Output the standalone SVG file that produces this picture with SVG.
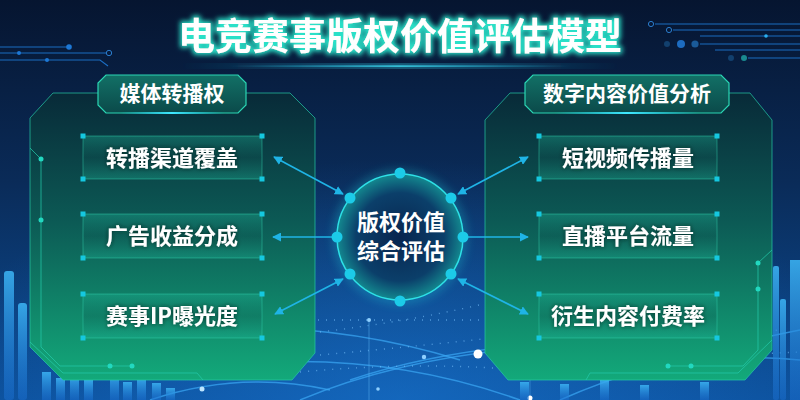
<svg xmlns="http://www.w3.org/2000/svg" width="800" height="400" viewBox="0 0 800 400">
<defs>
  <linearGradient id="bg" x1="0" y1="0" x2="0" y2="1">
    <stop offset="0" stop-color="#061530"/>
    <stop offset="0.45" stop-color="#0a2b58"/>
    <stop offset="1" stop-color="#0c4f9a"/>
  </linearGradient>
  <radialGradient id="bgGlow" cx="0.5" cy="1" r="0.6">
    <stop offset="0" stop-color="#1a7ad8" stop-opacity="0.55"/>
    <stop offset="1" stop-color="#1a7ad8" stop-opacity="0"/>
  </radialGradient>
  <linearGradient id="panel" x1="0" y1="0" x2="0" y2="1">
    <stop offset="0" stop-color="#082a38"/>
    <stop offset="0.45" stop-color="#0c5a55"/>
    <stop offset="1" stop-color="#13a97a"/>
  </linearGradient>
  <linearGradient id="box" x1="0" y1="0" x2="0" y2="1">
    <stop offset="0" stop-color="#1fb99a" stop-opacity="0.35"/>
    <stop offset="0.5" stop-color="#0e5a55" stop-opacity="0.25"/>
    <stop offset="1" stop-color="#1fb99a" stop-opacity="0.35"/>
  </linearGradient>
  <linearGradient id="tab" x1="0" y1="0" x2="0" y2="1">
    <stop offset="0" stop-color="#127066"/>
    <stop offset="1" stop-color="#0b4a4a"/>
  </linearGradient>
  <radialGradient id="hub" cx="0.5" cy="0.5" r="0.5">
    <stop offset="0" stop-color="#08254f"/>
    <stop offset="0.7" stop-color="#0b3f6a"/>
    <stop offset="1" stop-color="#13888f"/>
  </radialGradient>
  <linearGradient id="glowLine" x1="0" y1="0" x2="1" y2="0">
    <stop offset="0" stop-color="#20d8ff" stop-opacity="0"/>
    <stop offset="0.5" stop-color="#40e8ff" stop-opacity="1"/>
    <stop offset="1" stop-color="#20d8ff" stop-opacity="0"/>
  </linearGradient>
  <linearGradient id="bar" x1="0" y1="0" x2="0" y2="1">
    <stop offset="0" stop-color="#3ab0f0" stop-opacity="0.9"/>
    <stop offset="1" stop-color="#1a6ed0" stop-opacity="0.5"/>
  </linearGradient>
  <filter id="titleGlow" x="-10%" y="-40%" width="120%" height="180%">
    <feMorphology in="SourceAlpha" operator="dilate" radius="1.5" result="d"/>
    <feGaussianBlur in="d" stdDeviation="2.5" result="b"/>
    <feFlood flood-color="#2ae0c8"/>
    <feComposite in2="b" operator="in" result="g"/>
    <feMerge><feMergeNode in="g"/><feMergeNode in="SourceGraphic"/></feMerge>
  </filter>
  <filter id="txtShadow" x="-10%" y="-40%" width="120%" height="180%">
    <feGaussianBlur in="SourceAlpha" stdDeviation="2" result="b"/>
    <feFlood flood-color="#02201c" flood-opacity="0.8"/>
    <feComposite in2="b" operator="in" result="s"/>
    <feMerge><feMergeNode in="s"/><feMergeNode in="SourceGraphic"/></feMerge>
  </filter>
  <filter id="soft" x="-20%" y="-20%" width="140%" height="140%">
    <feGaussianBlur stdDeviation="4"/>
  </filter>
  <marker id="arr" viewBox="0 0 10 10" refX="9" refY="5" markerWidth="9" markerHeight="9" markerUnits="userSpaceOnUse" orient="auto-start-reverse">
    <path d="M0,0 L10,5 L0,10 Z" fill="#1fb4e6"/>
  </marker>
  <style>
    .title{font-family:"Noto Sans CJK SC","Noto Sans",sans-serif;font-weight:700;font-size:37px;fill:#ffffff;text-anchor:middle}
    .tabt{font-family:"Noto Sans CJK SC","Noto Sans",sans-serif;font-weight:700;font-size:21px;fill:#ffffff;text-anchor:middle}
    .boxt{font-family:"Noto Sans CJK SC","Noto Sans",sans-serif;font-weight:700;font-size:22px;fill:#ffffff;text-anchor:middle}
    .hubt{font-family:"Noto Sans CJK SC","Noto Sans",sans-serif;font-weight:700;font-size:22px;fill:#ffffff;text-anchor:middle}
    .panel{fill:url(#panel);stroke:#25c9a6;stroke-opacity:0.7;stroke-width:1}
    .tab{fill:url(#tab);stroke:#2ad6b4;stroke-width:1.2}
    .box{fill:url(#box);stroke:#34d2b0;stroke-opacity:0.45;stroke-width:1}
    .cn{fill:#15c8e0}
    .ckt{fill:none;stroke:#24c8a8;stroke-opacity:0.75;stroke-width:1}
    .cdot{fill:#22d8c0}
    .conn{stroke:#1fb4e6;stroke-width:1.6;fill:none}
    .hdot{fill:#1ccbe8}
    .deco{stroke:#1b6cc0;stroke-width:1.2;fill:none}
    .arc{fill:none;stroke:#3aa8f5;stroke-width:1.5;stroke-opacity:0.7}
    .dots{fill:none;stroke:#7cc4ff;stroke-width:1.4;stroke-dasharray:1 7;stroke-opacity:0.6}
    .bar{fill:url(#bar)}
  </style>
</defs>

<!-- background -->
<rect x="0" y="0" width="800" height="400" fill="url(#bg)"/>
<rect x="0" y="0" width="800" height="400" fill="url(#bgGlow)"/>

<!-- background arcs & dotted lines -->
<g id="bg-deco">
  <path class="arc" d="M200,330 Q330,320 460,360"/>
  <path class="arc" d="M300,400 Q420,350 580,345"/>
  <path class="arc" d="M230,365 Q380,350 520,400"/>
  <path class="arc" d="M350,380 Q470,340 640,340"/>
  <path class="arc" d="M560,400 Q650,360 800,330"/>
  <path class="arc" d="M150,400 Q240,370 330,390"/>
  <path class="arc" d="M600,380 Q700,350 800,360"/>
  <path class="dots" d="M310,320 L480,320"/>
  <path class="dots" d="M320,332 Q420,320 500,300"/>
  <path class="dots" d="M320,355 Q430,345 520,335"/>
  <path class="dots" d="M300,372 Q430,360 540,372"/>
  <path class="dots" d="M600,340 L780,330"/>
  <path class="dots" d="M620,360 L800,352"/>
  <line x1="369" y1="320" x2="369" y2="400" stroke="#5ab0f0" stroke-opacity="0.5" stroke-width="1"/>
  <line x1="530" y1="345" x2="530" y2="400" stroke="#5ab0f0" stroke-opacity="0.4" stroke-width="1"/>
  <circle cx="369" cy="320" r="2" fill="#8fd0ff"/>
  <circle cx="424" cy="357" r="2.2" fill="#8fd0ff"/>
  <circle cx="478" cy="354" r="4.5" fill="#ffffff"/>
  <circle cx="378" cy="389" r="1.8" fill="#8fd0ff"/>
  <circle cx="530" cy="398" r="2.5" fill="#ffffff"/>
  <circle cx="202" cy="389" r="2.5" fill="#bfe6ff"/>
  <!-- top-left circuit -->
  <line class="deco" x1="0" y1="47" x2="69" y2="47"/>
  <circle cx="69" cy="47" r="2.8" fill="#1d78d6"/>
  <line class="deco" x1="0" y1="53" x2="106" y2="53"/>
  <circle cx="19" cy="53" r="2" fill="#1d78d6"/>
  <circle cx="109" cy="53" r="2.7" fill="none" stroke="#2a7ccc" stroke-width="1"/>
  <path class="deco" d="M0,60 L100,60 L108,66"/>
  <circle cx="47" cy="60" r="2" fill="#1d78d6"/>
  <!-- top-right circuit -->
  <circle cx="651" cy="24" r="2.6" fill="none" stroke="#2a7ccc" stroke-width="1"/>
  <line class="deco" x1="655" y1="24" x2="800" y2="24"/>
  <circle cx="669" cy="30" r="2.6" fill="none" stroke="#2a7ccc" stroke-width="1"/>
  <line class="deco" x1="673" y1="30" x2="800" y2="30"/>
  <line class="deco" x1="700" y1="36" x2="800" y2="36"/>
  <circle cx="766" cy="36" r="1.8" fill="#2ab0f0"/>
  <circle cx="667" cy="44" r="3" fill="#12406e"/>
  <circle cx="681" cy="44" r="4" fill="#1d6cc0"/>
  <circle cx="695" cy="44" r="3.6" fill="#1a5a98"/>
  <line class="deco" x1="700" y1="44" x2="800" y2="44"/>
  <line class="deco" x1="715" y1="50" x2="800" y2="50"/>
  <circle cx="731" cy="58" r="3" fill="#12406e"/>
  <circle cx="744" cy="58" r="3" fill="#1a8a90"/>
  <line class="deco" x1="748" y1="58" x2="800" y2="58"/>
</g>

<!-- bar charts -->
<g id="bars">
  <rect class="bar" x="4" y="271" width="10" height="129" rx="3"/>
  <rect class="bar" x="18" y="303" width="9" height="97" rx="3"/>
  <rect class="bar" x="42" y="372" width="9" height="28"/>
  <rect class="bar" x="56" y="378" width="9" height="22"/>
  <rect class="bar" x="70" y="376" width="9" height="24"/>
  <rect class="bar" x="84" y="380" width="9" height="20"/>
  <rect class="bar" x="110" y="374" width="9" height="26"/>
  <rect class="bar" x="123" y="382" width="9" height="18"/>
  <rect class="bar" x="137" y="378" width="9" height="22"/>
  <rect class="bar" x="152" y="383" width="9" height="17"/>
  <rect class="bar" x="166" y="388" width="9" height="12"/>
  <rect class="bar" x="773" y="266" width="6" height="134" rx="2"/>
  <rect class="bar" x="780" y="299" width="6" height="101" rx="2"/>
  <rect class="bar" x="790" y="260" width="10" height="140"/>
  <rect class="bar" x="520" y="382" width="9" height="18"/>
  <rect class="bar" x="560" y="384" width="9" height="16"/>
  <rect class="bar" x="600" y="380" width="9" height="20"/>
  <rect class="bar" x="640" y="385" width="9" height="15"/>
  <rect class="bar" x="700" y="382" width="9" height="18"/>
</g>

<!-- title -->
<g id="title">
  <rect x="180" y="64" width="440" height="4" fill="url(#glowLine)" opacity="0.9" filter="url(#soft)"/>
  <rect x="230" y="65.5" width="340" height="1.2" fill="url(#glowLine)"/>
  <text class="title" x="400" y="50" filter="url(#titleGlow)">电竞赛事版权价值评估模型</text>
</g>

<!-- left panel -->
<g id="panel-media">
  <path class="panel" d="M53,93 L290,93 L315,118 L315,353 L292,380 L63,380 L30,347 L30,118 Z"/>
  <path class="ckt" d="M30,148 L41,159 L41,347 L60,366 L132,366"/>
  <path class="ckt" d="M30,342 L63,373 L197,373 L203,380"/>
  <circle class="cdot" cx="41" cy="159" r="2.5"/>
  <circle class="cdot" cx="41" cy="220" r="2.5"/>
  <circle class="cdot" cx="110" cy="366" r="2.5"/>
  <circle class="cdot" cx="132" cy="366" r="2.5"/>
  <path class="tab" d="M106,75 L238,75 L246,83 L246,105 L238,113 L106,113 L98,105 L98,83 Z"/>
  <rect x="120" y="112" width="104" height="2" fill="url(#glowLine)"/>
  <text class="tabt" x="172" y="101">媒体转播权</text>
</g>

<g id="node-broadcast">
  <rect class="box" x="83" y="136" width="179" height="43"/>
  <rect class="cn" x="80.5" y="133.5" width="5" height="5"/><rect class="cn" x="259.5" y="133.5" width="5" height="5"/>
  <rect class="cn" x="80.5" y="176.5" width="5" height="5"/><rect class="cn" x="259.5" y="176.5" width="5" height="5"/>
  <text class="boxt" x="172" y="165.5" filter="url(#txtShadow)">转播渠道覆盖</text>
</g>
<g id="node-ads">
  <rect class="box" x="83" y="214" width="179" height="44"/>
  <rect class="cn" x="80.5" y="211.5" width="5" height="5"/><rect class="cn" x="259.5" y="211.5" width="5" height="5"/>
  <rect class="cn" x="80.5" y="255.5" width="5" height="5"/><rect class="cn" x="259.5" y="255.5" width="5" height="5"/>
  <text class="boxt" x="172" y="244" filter="url(#txtShadow)">广告收益分成</text>
</g>
<g id="node-ip">
  <rect class="box" x="83" y="294" width="179" height="44"/>
  <rect class="cn" x="80.5" y="291.5" width="5" height="5"/><rect class="cn" x="259.5" y="291.5" width="5" height="5"/>
  <rect class="cn" x="80.5" y="335.5" width="5" height="5"/><rect class="cn" x="259.5" y="335.5" width="5" height="5"/>
  <text class="boxt" x="172" y="324" filter="url(#txtShadow)">赛事IP曝光度</text>
</g>

<!-- right panel -->
<g id="panel-digital">
  <path class="panel" d="M510,93 L750,93 L772,120 L772,350 L745,380 L508,380 L485,353 L485,120 Z"/>
  <path class="ckt" d="M772,250 L758,263 L758,350 L743,366 L668,366"/>
  <path class="ckt" d="M772,340 L738,373 L590,373 L586,380"/>
  <circle class="cdot" cx="758" cy="263" r="2.5"/>
  <circle class="cdot" cx="758" cy="289" r="2.5"/>
  <circle class="cdot" cx="668" cy="366" r="2.5"/>
  <circle class="cdot" cx="691" cy="366" r="2.5"/>
  <path class="tab" d="M533,75 L721,75 L729,83 L729,105 L721,113 L533,113 L525,105 L525,83 Z"/>
  <rect x="555" y="112" width="144" height="2" fill="url(#glowLine)"/>
  <text class="tabt" x="627" y="101">数字内容价值分析</text>
</g>

<g id="node-shortvideo">
  <rect class="box" x="539" y="136" width="178" height="43"/>
  <rect class="cn" x="536.5" y="133.5" width="5" height="5"/><rect class="cn" x="714.5" y="133.5" width="5" height="5"/>
  <rect class="cn" x="536.5" y="176.5" width="5" height="5"/><rect class="cn" x="714.5" y="176.5" width="5" height="5"/>
  <text class="boxt" x="628" y="165.5" filter="url(#txtShadow)">短视频传播量</text>
</g>
<g id="node-live">
  <rect class="box" x="539" y="214" width="178" height="44"/>
  <rect class="cn" x="536.5" y="211.5" width="5" height="5"/><rect class="cn" x="714.5" y="211.5" width="5" height="5"/>
  <rect class="cn" x="536.5" y="255.5" width="5" height="5"/><rect class="cn" x="714.5" y="255.5" width="5" height="5"/>
  <text class="boxt" x="628" y="244" filter="url(#txtShadow)">直播平台流量</text>
</g>
<g id="node-derivative">
  <rect class="box" x="539" y="294" width="178" height="44"/>
  <rect class="cn" x="536.5" y="291.5" width="5" height="5"/><rect class="cn" x="714.5" y="291.5" width="5" height="5"/>
  <rect class="cn" x="536.5" y="335.5" width="5" height="5"/><rect class="cn" x="714.5" y="335.5" width="5" height="5"/>
  <text class="boxt" x="628" y="324" filter="url(#txtShadow)">衍生内容付费率</text>
</g>

<!-- connectors -->
<g id="connectors">
  <line class="conn" x1="343" y1="194" x2="274" y2="157" marker-start="url(#arr)" marker-end="url(#arr)"/>
  <line class="conn" x1="335" y1="237" x2="273" y2="237" marker-end="url(#arr)"/>
  <line class="conn" x1="343" y1="279" x2="275" y2="314" marker-start="url(#arr)" marker-end="url(#arr)"/>
  <line class="conn" x1="458" y1="194" x2="528" y2="157" marker-start="url(#arr)" marker-end="url(#arr)"/>
  <line class="conn" x1="465" y1="237" x2="528" y2="237" marker-end="url(#arr)"/>
  <line class="conn" x1="458" y1="279" x2="528" y2="314" marker-start="url(#arr)" marker-end="url(#arr)"/>
</g>

<!-- hub -->
<g id="node-hub">
  <circle cx="400" cy="237" r="68" fill="#1ad0d8" opacity="0.25" filter="url(#soft)"/>
  <circle cx="400" cy="237" r="63" fill="url(#hub)" stroke="#2ee0e6" stroke-width="1.5"/>
  <circle class="hdot" cx="400" cy="173" r="5.5"/>
  <circle class="hdot" cx="400" cy="301" r="5.5"/>
  <circle class="hdot" cx="337" cy="237" r="5.5"/>
  <circle class="hdot" cx="463" cy="237" r="5.5"/>
  <circle class="hdot" cx="350" cy="198" r="5.5"/>
  <circle class="hdot" cx="451" cy="198" r="5.5"/>
  <circle class="hdot" cx="350" cy="274" r="5.5"/>
  <circle class="hdot" cx="451" cy="274" r="5.5"/>
  <text class="hubt" x="401" y="230">版权价值</text>
  <text class="hubt" x="401" y="259">综合评估</text>
</g>
</svg>
